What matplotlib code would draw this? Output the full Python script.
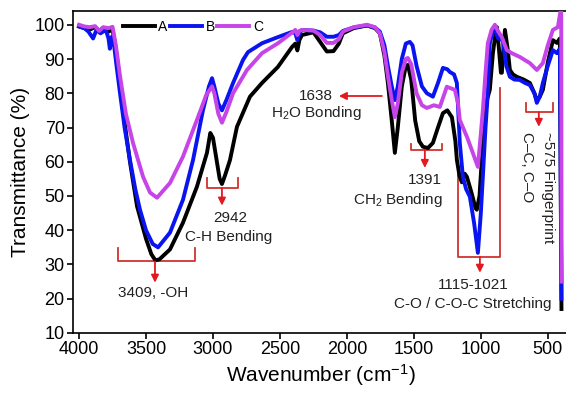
import matplotlib

matplotlib.use("Agg")
import matplotlib.pyplot as plt

# ---- data ------------------------------------------------------------------
wn_a = [4000, 3960, 3920, 3880, 3850, 3820, 3780, 3750, 3725, 3700, 3672, 3620,
        3567, 3500, 3460, 3430, 3400, 3321, 3224, 3120, 3045, 3020, 3000, 2975,
        2950, 2933, 2910, 2873, 2821, 2724, 2634, 2515, 2410, 2385, 2370, 2355,
        2336, 2250, 2200, 2150, 2100, 2060, 2030, 1950, 1850, 1790, 1754, 1720,
        1694, 1665, 1642, 1620, 1590, 1560, 1545, 1520, 1490, 1460, 1433, 1395,
        1358, 1320, 1283, 1250, 1216, 1190, 1179, 1160, 1142, 1120, 1104, 1070,
        1040, 1030, 1010, 993, 970, 955, 933, 910, 890, 880, 865, 850, 843, 830,
        820, 800, 783, 760, 731, 680, 634, 600, 582, 560, 537, 500, 462, 432,
        410, 398]
t_a = [99.5, 99.0, 98.6, 99.3, 98.3, 98.9, 98.0, 98.6, 93, 85, 75, 60,
       47, 37.5, 33, 31.2, 31.5, 34.4, 42.2, 52.7, 62.6, 68.4, 67, 61,
       55, 53.5, 56, 60.5, 70.2, 79, 83, 87.7, 93.5, 94.5, 92.5, 95.5,
       97, 97.8, 95, 92.2, 92.3, 94.5, 97.5, 99, 99.8, 99, 97.5, 91,
       83, 72, 62.6, 70, 82, 88, 88.3, 84, 72, 66, 64.4, 64,
       65.5, 70, 74.2, 75, 73, 66, 60.6, 56, 54, 56.5, 55.6, 51,
       46.5, 46, 50, 60.6, 72, 78, 81, 91.7, 97.5, 99.3, 93, 86, 86, 94,
       98.5, 93, 86.8, 85.5, 84.8, 84, 83, 80, 78, 79, 81, 89, 95.5, 94.7,
       96, 17]

wn_b = [4000, 3960, 3930, 3895, 3870, 3840, 3800, 3780, 3770, 3755, 3740, 3720,
        3694, 3660, 3620, 3580, 3545, 3500, 3450, 3410, 3321, 3224, 3149, 3075,
        3030, 3007, 2990, 2960, 2933, 2900, 2850, 2776, 2739, 2634, 2515, 2410,
        2385, 2370, 2355, 2336, 2250, 2200, 2150, 2100, 2060, 2030, 1950, 1850,
        1790, 1754, 1720, 1694, 1665, 1642, 1620, 1590, 1560, 1530, 1510, 1480,
        1440, 1403, 1358, 1320, 1283, 1250, 1231, 1200, 1179, 1157, 1134, 1110,
        1082, 1050, 1022, 1000, 985, 965, 948, 933, 915, 895, 870, 836, 810,
        783, 750, 709, 670, 634, 600, 582, 560, 537, 500, 462, 432, 410, 398]
t_b = [99.5, 99, 98, 96, 98.5, 97.5, 98.5, 96, 93, 96.5, 94.5, 88,
       80, 70, 60.6, 52, 46, 40, 36, 35, 39.3, 48.9, 60.5, 75,
       82, 84.4, 82, 77, 75, 78, 83, 89.7, 92, 94.6, 96.4, 97.9,
       97.5, 95.5, 97.5, 98.5, 98.3, 97.8, 96.5, 96.5, 97, 98.2, 99.2, 99.8,
       99.2, 98, 94, 88, 82, 78, 82, 90, 94.5, 95, 94, 88,
       82, 80, 79, 83, 87.4, 87, 86.2, 85.5, 83, 65.5, 55.6, 52,
       49.8, 42, 33.4, 45, 55.6, 70, 80, 94.6, 97.5, 98.5, 96, 95.5, 88,
       84.8, 84, 83.9, 83, 82.4, 80, 77.2, 79, 83, 88, 92.6, 91.7, 93, 20]

wn_c = [4000, 3960, 3920, 3880, 3850, 3820, 3780, 3750, 3725, 3694, 3650, 3597,
        3522, 3470, 3418, 3321, 3224, 3120, 3050, 3007, 2990, 2960, 2933, 2900,
        2850, 2746, 2634, 2515, 2403, 2385, 2370, 2355, 2336, 2250, 2200, 2150,
        2100, 2060, 2030, 1950, 1850, 1790, 1754, 1720, 1694, 1665, 1642, 1620,
        1590, 1560, 1545, 1520, 1480, 1440, 1403, 1350, 1306, 1254, 1194, 1170,
        1157, 1104, 1060, 1022, 1005, 985, 965, 948, 920, 895, 870, 843, 806,
        769, 709, 634, 582, 537, 500, 462, 425, 405, 400, 397]
t_c = [100, 99.5, 99.3, 99.6, 98.2, 99.3, 99.0, 99.4, 94, 85, 74, 65.5,
       55.6, 51, 49.5, 53.8, 61.5, 72.2, 79.5, 82, 80, 74, 71.4, 74.5,
       80, 86.8, 91.7, 94.6, 97.9, 98.5, 97, 98.2, 98.5, 98.3, 97, 94.7,
       94.7, 95.8, 98, 99.3, 100, 99.3, 97.5, 92, 85, 78, 73, 77,
       86, 90, 90.3, 88.5, 80, 76.5, 75.7, 76.5, 76, 81.9, 81, 77,
       72.2, 67.3, 62.6, 58.5, 66, 75, 86, 94.6, 98.5, 100, 98, 96.4, 92.6,
       91.7, 90.6, 88.8, 86.8, 88.8, 94, 98.5, 99.3, 104, 108, 25]

series = ["A", "B", "C"]
xticks = [4000, 3500, 3000, 2500, 2000, 1500, 1000, 500]
yticks = [10, 20, 30, 40, 50, 60, 70, 80, 90, 100]

# ---- style -----------------------------------------------------------------
RED = "#E3191F"
BRK = "#D1312E"
TXT = "#222222"
COLORS = ["#000000", "#0A14F0", "#C644E8"]

plt.rcParams.update({
    "font.family": ["Liberation Sans", "DejaVu Sans"],
    "mathtext.default": "regular",
    "axes.linewidth": 1.2,
    "xtick.direction": "out",
    "ytick.direction": "out",
    "xtick.major.size": 4,
    "ytick.major.size": 4,
    "xtick.major.width": 1.2,
    "ytick.major.width": 1.2,
})

fig = plt.figure(figsize=(5.66, 3.95), dpi=100)
ax = fig.add_axes([0.129, 0.157, 0.876, 0.815])

for (w, t), name, col in zip([(wn_a, t_a), (wn_b, t_b), (wn_c, t_c)], series, COLORS):
    ax.plot(w, t, color=col, lw=2.8, label=name, zorder=3, solid_joinstyle="round")

ax.set_xlim(4045, 343)
ax.set_ylim(10, 104)
ax.set_xticks(xticks)
ax.set_yticks(yticks)
ax.tick_params(labelsize=13, pad=2)
ax.spines["right"].set_visible(False)
ax.set_xlabel("Wavenumber (cm$^{-1}$)", fontsize=15, labelpad=3)
ax.set_ylabel("Transmittance (%)", fontsize=15, labelpad=3)

ax.legend(ncol=3, loc="center left", bbox_to_anchor=(0.1, 0.95), frameon=False,
          fontsize=10, handlelength=2.3, handletextpad=0.25, columnspacing=0.2,
          borderpad=0, borderaxespad=0)


def bracket(x1, x2, ybar, ytip):
    ax.plot([x1, x1, x2, x2], [ytip, ybar, ybar, ytip], color=BRK, lw=1.3, zorder=2)


def arrow(x0, y0, x1, y1):
    ax.annotate("", xy=(x1, y1), xytext=(x0, y0),
                arrowprops=dict(arrowstyle="-|>", color=RED, lw=1.3,
                                mutation_scale=11, shrinkA=0, shrinkB=0),
                zorder=4)


def label(x, y, s, **kw):
    ax.text(x, y, s, ha="center", va="center", fontsize=11, color=TXT, **kw)


# 3409 -OH
bracket(3709, 3134, 30.9, 34.7)
arrow(3433, 30.9, 3433, 24.7)
label(3448, 21.8, "3409, -OH")

# 2942 C-H
bracket(3045, 2813, 52.4, 55.3)
arrow(2933, 52.4, 2933, 47.2)
label(2873, 43.6, "2942")
label(2880, 38.1, "C-H Bending")

# 1638 H2O
arrow(1739, 79.2, 2060, 79.2)
label(2231, 79.2, "1638")
label(2231, 74.3, "H$_2$O Bonding")

# 1391 CH2
bracket(1522, 1291, 63.5, 65.2)
arrow(1418, 63.5, 1418, 58.2)
label(1418, 54.7, "1391")
label(1619, 48.9, "CH$_2$ Bending")

# 1115-1021 C-O
ax.plot([1171, 1171, 858, 858], [60, 32.3, 32.3, 81.6], color=BRK, lw=1.3, zorder=2)
arrow(1007, 32.3, 1007, 27.6)
label(1059, 23.9, "1115-1021")
label(1059, 18.6, "C-O / C-O-C Stretching")

# ~575 fingerprint
bracket(664, 462, 74.5, 77.1)
arrow(567, 74.5, 567, 70.2)
ax.text(500, 68.7, "~575 Fingerprint", rotation=-90, ha="center", va="top",
        fontsize=11, color=TXT)
ax.text(656, 68.7, "C\u2013C, C\u2013O", rotation=-90, ha="center", va="top",
        fontsize=11, color=TXT)

fig.savefig("out.png", dpi=100)
